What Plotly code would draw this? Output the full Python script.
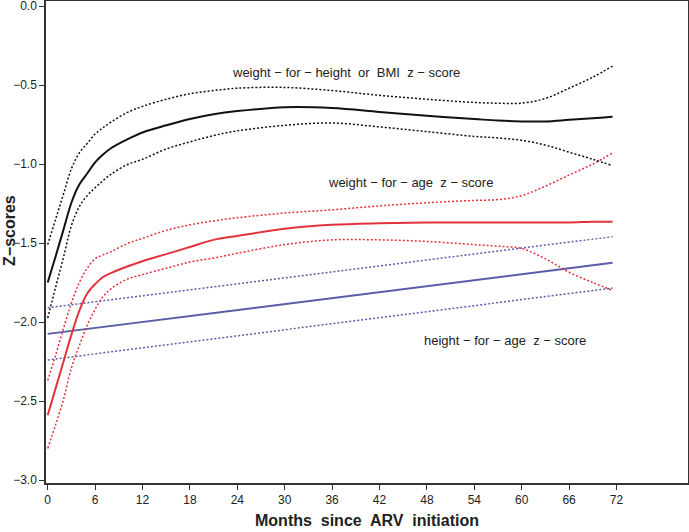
import plotly.graph_objects as go

months = [0, 1, 2, 3, 4, 5, 6, 7, 8, 10, 12, 15, 18, 21, 24, 30, 36, 42, 48, 54, 57, 60, 63, 66, 69, 71.5]

whz_fit = [-1.75, -1.585, -1.415, -1.245, -1.13, -1.06, -0.99, -0.94, -0.90, -0.845, -0.80, -0.755,
           -0.715, -0.685, -0.665, -0.64, -0.645, -0.67, -0.695, -0.715, -0.725, -0.73, -0.73, -0.72, -0.71, -0.70]
whz_up = [-1.51, -1.35, -1.19, -1.03, -0.93, -0.87, -0.81, -0.77, -0.735, -0.675, -0.635, -0.59,
          -0.555, -0.535, -0.52, -0.515, -0.535, -0.565, -0.59, -0.61, -0.615, -0.615, -0.585, -0.52, -0.45, -0.38]
whz_lo = [-1.975, -1.78, -1.59, -1.39, -1.27, -1.20, -1.15, -1.105, -1.065, -1.005, -0.97, -0.905,
          -0.86, -0.82, -0.79, -0.755, -0.74, -0.765, -0.795, -0.825, -0.835, -0.85, -0.88, -0.925, -0.97, -1.01]

waz_fit = [-2.59, -2.42, -2.25, -2.08, -1.93, -1.82, -1.76, -1.715, -1.69, -1.65, -1.615, -1.57,
           -1.525, -1.48, -1.455, -1.41, -1.385, -1.375, -1.37, -1.37, -1.37, -1.37, -1.37, -1.37, -1.365, -1.365]
waz_up = [-2.37, -2.21, -2.04, -1.88, -1.75, -1.66, -1.60, -1.575, -1.555, -1.505, -1.47, -1.42,
          -1.385, -1.36, -1.34, -1.31, -1.29, -1.265, -1.245, -1.23, -1.225, -1.20, -1.14, -1.07, -1.00, -0.93]
waz_lo = [-2.80, -2.65, -2.49, -2.29, -2.15, -2.02, -1.92, -1.84, -1.79, -1.73, -1.70, -1.66,
          -1.62, -1.595, -1.565, -1.51, -1.48, -1.48, -1.49, -1.51, -1.52, -1.535, -1.60, -1.685, -1.75, -1.80]

haz_months = [0, 71.5]
haz_fit = [-2.075, -1.625]
haz_up = [-1.91, -1.46]
haz_lo = [-2.24, -1.785]

x_ticks = [0, 6, 12, 18, 24, 30, 36, 42, 48, 54, 60, 66, 72]
y_ticks = [0.0, -0.5, -1.0, -1.5, -2.0, -2.5, -3.0]

labels = [
    ("weight \u2212 for \u2212 height  or  BMI  z \u2212 score", 37.8, -0.422),
    ("weight \u2212 for \u2212 age  z \u2212 score", 45.96, -1.118),
    ("height \u2212 for \u2212 age  z \u2212 score", 57.87, -2.118),
]

BLACK = "#111111"
RED = "#e2333d"
BLUE = "#5b5ca8"
FONT = "Liberation Sans, Arial, sans-serif"

fig = go.Figure()

def add(x, y, color, dotted):
    fig.add_trace(go.Scatter(
        x=x, y=y, mode="lines",
        line=dict(color=color, width=1.5 if dotted else 2.0,
                  dash="2px,2px" if dotted else "solid", shape="spline", smoothing=1.0),
        hoverinfo="skip", showlegend=False))

add(haz_months, haz_up, BLUE, True)
add(haz_months, haz_lo, BLUE, True)
add(haz_months, haz_fit, BLUE, False)
add(months, waz_up, RED, True)
add(months, waz_lo, RED, True)
add(months, waz_fit, RED, False)
add(months, whz_up, BLACK, True)
add(months, whz_lo, BLACK, True)
add(months, whz_fit, BLACK, False)

for text, x, y in labels:
    fig.add_annotation(x=x, y=y, text=text, showarrow=False,
                       font=dict(family=FONT, size=13, color="#222222"))

fig.add_annotation(xref="paper", yref="paper", x=0.5, y=-0.077, yanchor="middle",
                   text="<b>Months  since  ARV  initiation</b>", showarrow=False,
                   font=dict(family=FONT, size=16, color="#222222"))
fig.add_annotation(xref="paper", yref="paper", x=-0.056, y=0.523, xanchor="center", yanchor="middle",
                   textangle=-90, text="<b>Z\u2212scores</b>", showarrow=False,
                   font=dict(family=FONT, size=16, color="#222222"))

axis_common = dict(showgrid=False, zeroline=False, showline=True, linecolor="#333333", linewidth=1.5,
                   mirror=True, ticks="outside", ticklen=5, tickwidth=1.2, tickcolor="#333333",
                   automargin=False, ticklabeloverflow="allow",
                   tickfont=dict(family=FONT, size=12, color="#222222"))

fig.update_xaxes(range=[-0.215, 81.05], tickvals=x_ticks, ticktext=[str(v) for v in x_ticks], **axis_common)
fig.update_yaxes(range=[-3.019, 0.032], tickvals=y_ticks, tickformat=".1f", **axis_common)

fig.update_layout(width=689, height=532, margin=dict(l=46, r=1, t=1, b=49),
                  plot_bgcolor="white", paper_bgcolor="white")

fig.write_html("out.html", config={"displayModeBar": False},
               post_script="document.body.style.margin='0';document.body.style.overflow='hidden';")
